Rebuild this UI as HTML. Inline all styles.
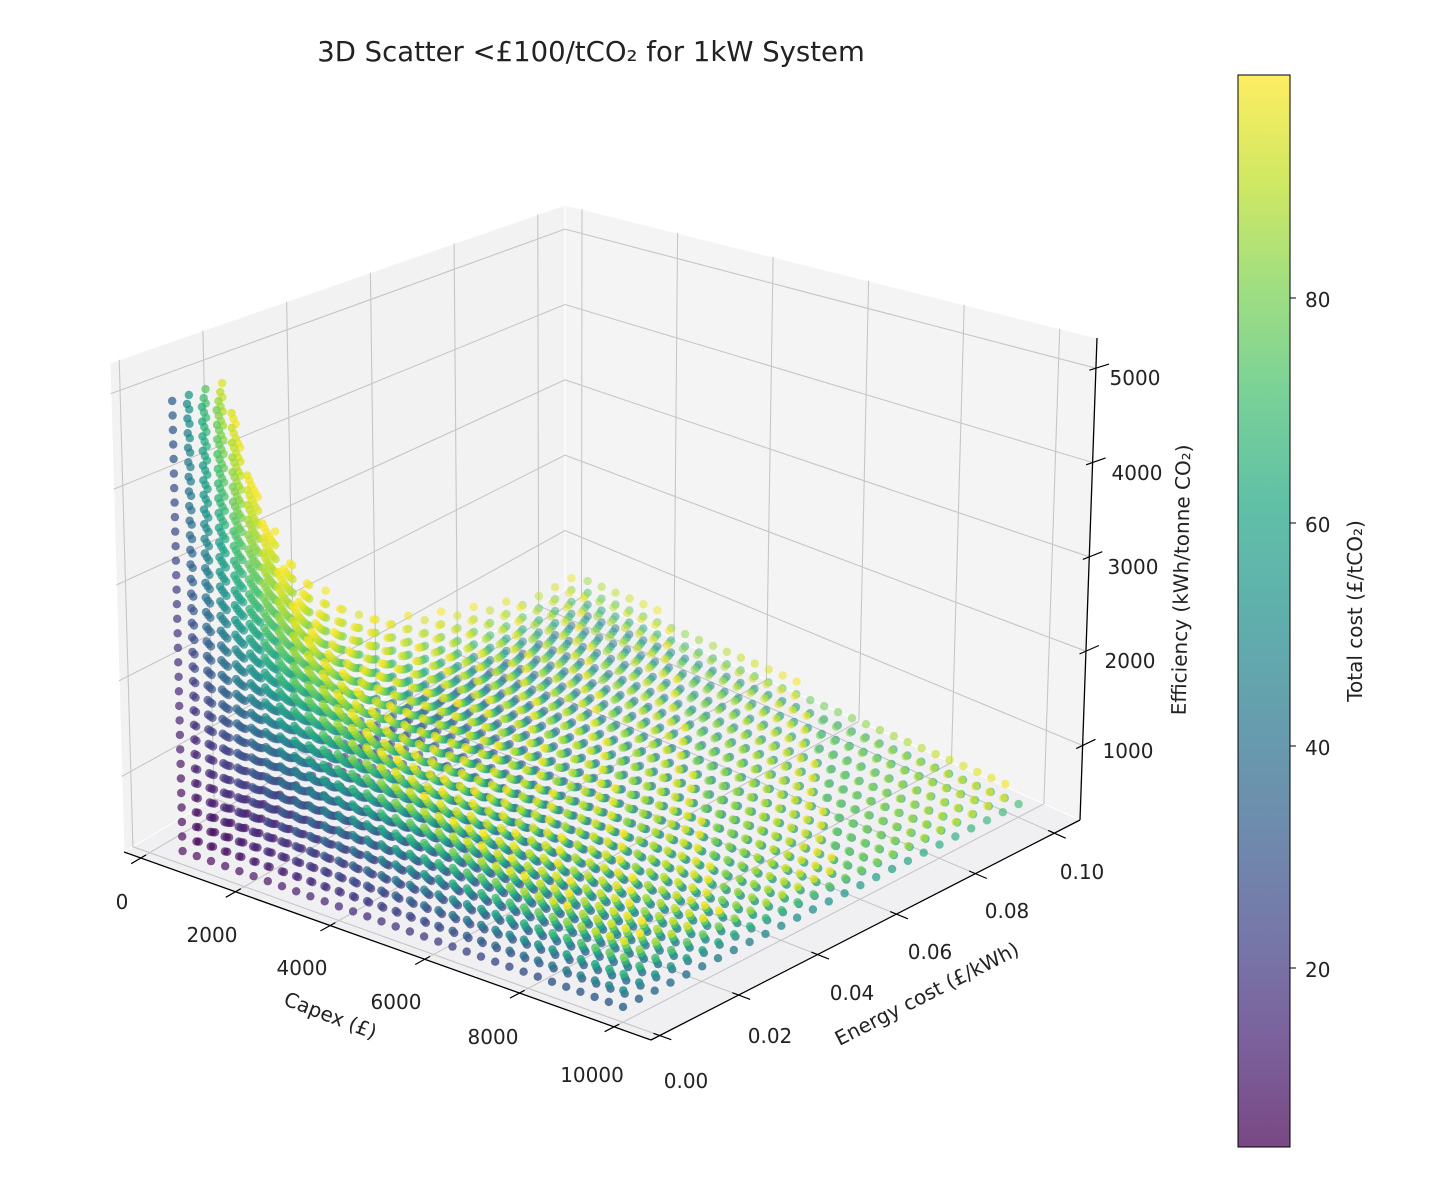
<!DOCTYPE html>
<html><head><meta charset="utf-8">
<style>
html,body{margin:0;padding:0;background:#fff;}
svg text{font-family:"DejaVu Sans","Liberation Sans",sans-serif;fill:#222;}
</style></head>
<body>
<svg id="s" width="1432" height="1176" viewBox="0 0 1432 1176" xmlns="http://www.w3.org/2000/svg">
<defs>
<linearGradient id="vir" x1="0" y1="1" x2="0" y2="0">
<stop offset="0" stop-color="#440154"/><stop offset="0.1" stop-color="#482475"/><stop offset="0.2" stop-color="#414487"/><stop offset="0.3" stop-color="#355f8d"/><stop offset="0.4" stop-color="#2a788e"/><stop offset="0.5" stop-color="#21918c"/><stop offset="0.6" stop-color="#22a884"/><stop offset="0.7" stop-color="#44bf70"/><stop offset="0.8" stop-color="#7ad151"/><stop offset="0.9" stop-color="#bddf26"/><stop offset="1" stop-color="#fde725"/>
</linearGradient>
</defs>
<rect width="1432" height="1176" fill="#fff"/>
<g id="panes"></g>
<g id="grid"></g>
<g id="axes"></g>
<g id="pts"></g>
<text x="591" y="61" font-size="27.5" text-anchor="middle">3D Scatter &lt;£100/tCO₂ for 1kW System</text>
<g font-size="20" text-anchor="middle">
<text x="122" y="909">0</text>
<text x="212" y="942">2000</text>
<text x="302" y="975">4000</text>
<text x="396" y="1009">6000</text>
<text x="493" y="1044">8000</text>
<text x="592" y="1082">10000</text>
<text x="686" y="1088">0.00</text>
<text x="770" y="1043">0.02</text>
<text x="852" y="1000">0.04</text>
<text x="930" y="959">0.06</text>
<text x="1007" y="918">0.08</text>
<text x="1082" y="879">0.10</text>
<text x="1135" y="385">5000</text>
<text x="1137" y="480">4000</text>
<text x="1133" y="574">3000</text>
<text x="1130" y="668">2000</text>
<text x="1128" y="758">1000</text>
</g>
<text font-size="20" text-anchor="middle" transform="translate(328,1022) rotate(21)">Capex (£)</text>
<text font-size="20" text-anchor="middle" transform="translate(930,1000) rotate(-27)">Energy cost (£/kWh)</text>
<text font-size="20" text-anchor="middle" transform="translate(1188,580) rotate(-89)">Efficiency (kWh/tonne CO₂)</text>
<rect x="1238" y="75" width="52" height="1072" fill="url(#vir)" opacity="0.72"/>
<rect x="1238" y="75" width="52" height="1072" fill="none" stroke="#000" stroke-width="1"/>
<g stroke="#000" stroke-width="1">
<line x1="1290" y1="968" x2="1296" y2="968"/><line x1="1290" y1="746" x2="1296" y2="746"/>
<line x1="1290" y1="523" x2="1296" y2="523"/><line x1="1290" y1="298" x2="1296" y2="298"/>
</g>
<g font-size="20">
<text x="1305" y="977">20</text><text x="1305" y="755">40</text><text x="1305" y="532">60</text><text x="1305" y="307">80</text>
</g>
<text font-size="20" text-anchor="middle" transform="translate(1362,611) rotate(-90)">Total cost (£/tCO₂)</text>
</svg>
<script>
(function(){
var NS="http://www.w3.org/2000/svg";
var B00=[124,852],B10=[651,1040],B11=[1080,820],B01=[565,590];
var T00=[110,363],T10=[662,470],T11=[1097,338],T01=[565,205];
function bil(a,b,c,d,u,v){
 return [a[0]*(1-u)*(1-v)+b[0]*u*(1-v)+c[0]*(1-u)*v+d[0]*u*v,
         a[1]*(1-u)*(1-v)+b[1]*u*(1-v)+c[1]*(1-u)*v+d[1]*u*v];}
function P(u,v,w){var b=bil(B00,B10,B01,B11,u,v),t=bil(T00,T10,T01,T11,u,v);
 return [b[0]+(t[0]-b[0])*w,b[1]+(t[1]-b[1])*w];}
var X0=-356,X1=10780,Y0=-0.0022,Y1=0.1065,Z0=210,Z1=5320;
function U(x){return (x-X0)/(X1-X0);}function V(y){return (y-Y0)/(Y1-Y0);}function W(z){return (z-Z0)/(Z1-Z0);}
function el(tag,at,par){var e=document.createElementNS(NS,tag);for(var k in at)e.setAttribute(k,at[k]);par.appendChild(e);return e;}
function poly(pts){return pts.map(function(p){return p[0].toFixed(1)+","+p[1].toFixed(1)}).join(" ");}
var panes=document.getElementById("panes"),grid=document.getElementById("grid"),axes=document.getElementById("axes"),ptsG=document.getElementById("pts");
el("polygon",{points:poly([P(0,0,0),P(0,1,0),P(0,1,1),P(0,0,1)]),fill:"#f2f2f2",stroke:"#fff"},panes);
el("polygon",{points:poly([P(0,1,0),P(1,1,0),P(1,1,1),P(0,1,1)]),fill:"#f4f4f4",stroke:"#fff"},panes);
el("polygon",{points:poly([P(0,0,0),P(1,0,0),P(1,1,0),P(0,1,0)]),fill:"#f0f0f2",stroke:"#fff"},panes);
function ln(a,b,st,sw,par){el("line",{x1:a[0].toFixed(1),y1:a[1].toFixed(1),x2:b[0].toFixed(1),y2:b[1].toFixed(1),stroke:st,"stroke-width":sw},par);}
var gc="#c6c6c6";
var xt=[0,2000,4000,6000,8000,10000],yt=[0,0.02,0.04,0.06,0.08,0.10],zt=[1000,2000,3000,4000,5000];
xt.forEach(function(x){var u=U(x);ln(P(u,0,0),P(u,1,0),gc,1.1,grid);ln(P(u,1,0),P(u,1,1),gc,1.1,grid);});
yt.forEach(function(y){var v=V(y);ln(P(0,v,0),P(1,v,0),gc,1.1,grid);ln(P(0,v,0),P(0,v,1),gc,1.1,grid);});
zt.forEach(function(z){var w=W(z);ln(P(0,0,w),P(0,1,w),gc,1.1,grid);ln(P(0,1,w),P(1,1,w),gc,1.1,grid);});
ln(P(0,0,0),P(1,0,0),"#000",1.3,axes);ln(P(1,0,0),P(1,1,0),"#000",1.3,axes);ln(P(1,1,0),P(1,1,1),"#000",1.3,axes);
xt.forEach(function(x){var u=U(x);ln(P(u,0.012,0),P(u,-0.022,0),"#000",1.2,axes);});
yt.forEach(function(y){var v=V(y);ln(P(0.988,v,0),P(1.022,v,0),"#000",1.2,axes);});
zt.forEach(function(z){var w=W(z);ln(P(1,0.985,w),P(1,1.03,w),"#000",1.2,axes);});
var cs=[[68,1,84],[72,36,117],[65,68,135],[53,95,141],[42,120,142],[33,145,140],[34,168,132],[68,191,112],[122,209,81],[189,223,38],[253,231,37]];
function vir(t){t=Math.max(0,Math.min(1,t))*10;var i=Math.min(9,Math.floor(t)),f=t-i,a=cs[i],b=cs[i+1];
 return "rgb("+Math.round(a[0]+(b[0]-a[0])*f)+","+Math.round(a[1]+(b[1]-a[1])*f)+","+Math.round(a[2]+(b[2]-a[2])*f)+")";}
var list=[];
for(var ci=0;ci<32;ci++){var c=700+ci*300;
 for(var ei=0;ei<26;ei++){var e=ei*0.004;
  for(var zi=0;zi<32;zi++){var z=350+zi*150;if(z>5000)break;
   var cost=z*(1.0e-5*c+e);
   if(cost<100){var u=U(c),v=V(e),w=W(z);list.push([u,v,w,cost,u+(1-v)+0.5*w]);}
 }}}
list.sort(function(a,b){return a[4]-b[4];});
var mn=1e9,mx=-1e9;list.forEach(function(p){mn=Math.min(mn,p[4]);mx=Math.max(mx,p[4]);});
var frag=document.createDocumentFragment();
list.forEach(function(p){var s=P(p[0],p[1],p[2]);var n=(p[4]-mn)/(mx-mn);
 var c=document.createElementNS(NS,"circle");c.setAttribute("cx",s[0].toFixed(1));c.setAttribute("cy",s[1].toFixed(1));c.setAttribute("r","4.2");
 c.setAttribute("fill",vir((p[3]-4)/96));c.setAttribute("fill-opacity",(0.85*(0.55+0.45*n)).toFixed(2));frag.appendChild(c);});
ptsG.appendChild(frag);
})();
</script>
</body></html>
